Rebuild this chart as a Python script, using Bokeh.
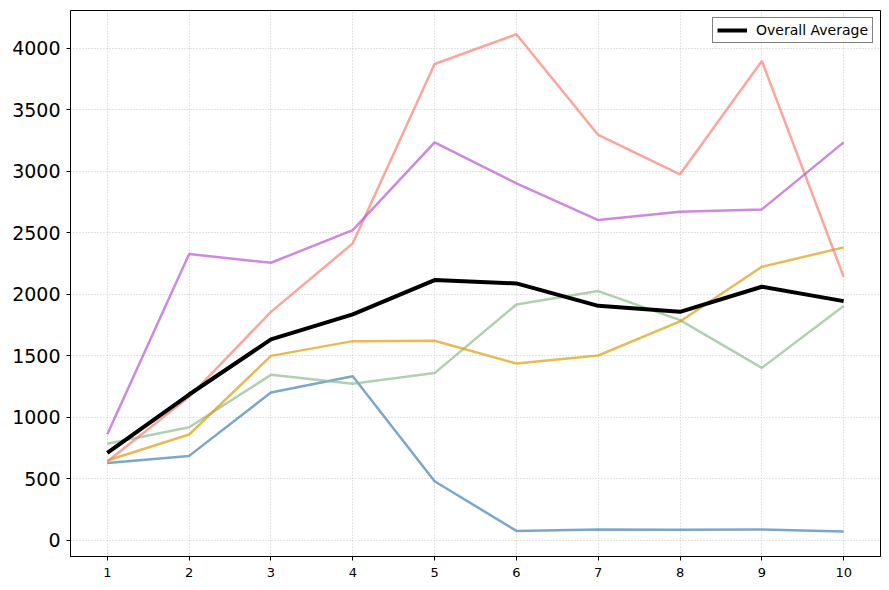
from bokeh.plotting import figure
from bokeh.models import Range1d, FixedTicker, Legend, LegendItem
from bokeh.embed import file_html
from bokeh.resources import INLINE

x = [1, 2, 3, 4, 5, 6, 7, 8, 9, 10]
series_blue = [629, 686, 1201, 1334, 480, 76, 87, 85, 87, 71]
series_green = [784, 919, 1345, 1272, 1359, 1917, 2026, 1790, 1402, 1904]
series_yellow = [648, 860, 1499, 1619, 1622, 1437, 1502, 1779, 2223, 2381]
series_red = [640, 1166, 1857, 2414, 3872, 4114, 3295, 2975, 3897, 2142]
series_purple = [862, 2327, 2256, 2522, 3235, 2902, 2603, 2671, 2690, 3235]
overall_average = [710, 1185, 1633, 1836, 2115, 2088, 1906, 1857, 2061, 1944]
y_ticks = [0, 500, 1000, 1500, 2000, 2500, 3000, 3500, 4000]

p = figure(width=884, height=585, output_backend="svg", toolbar_location=None,
           x_range=Range1d(0.55, 10.45), y_range=Range1d(-132, 4307),
           min_border_left=70, min_border_top=10, min_border_right=4, min_border_bottom=29)

colors = [("#4682b4", series_blue), ("#8fbc8f", series_green), ("#df9d0c", series_yellow),
          ("#fa8072", series_red), ("#ba55d3", series_purple)]
for c, ys in colors:
    p.line(x, ys, line_color=c, line_alpha=0.7, line_width=2.5)

avg = p.line(x, overall_average, line_color="black", line_width=4)

legend = Legend(items=[LegendItem(label="Overall Average", renderers=[avg])],
                location="top_right", margin=7, padding=4, glyph_width=30, glyph_height=16,
                label_standoff=9, label_text_font_size="14px", label_text_font="DejaVu Sans",
                label_text_color="black",
                border_line_color="black", border_line_width=1, spacing=0,
                background_fill_alpha=1.0)
p.add_layout(legend)

p.outline_line_color = "black"
p.outline_line_width = 1
p.outline_line_alpha = 1

for g in (p.xgrid, p.ygrid):
    g.grid_line_color = "#c8c8c8"
    g.grid_line_dash = "1 2"
    g.grid_line_width = 1

p.xaxis.ticker = FixedTicker(ticks=x)
p.yaxis.ticker = FixedTicker(ticks=y_ticks)
for ax in (p.xaxis, p.yaxis):
    ax.axis_line_color = "black"
    ax.major_tick_line_color = "black"
    ax.major_tick_out = 4
    ax.major_tick_in = 0
    ax.minor_tick_line_color = None
    ax.major_label_text_font = "DejaVu Sans"
    ax.major_label_text_color = "black"
p.xaxis.major_label_text_font_size = "13px"
p.yaxis.major_label_text_font_size = "19px"
p.xaxis.major_label_standoff = 7
p.yaxis.major_label_standoff = 6

open("out.html", "w").write(file_html(p, INLINE))
